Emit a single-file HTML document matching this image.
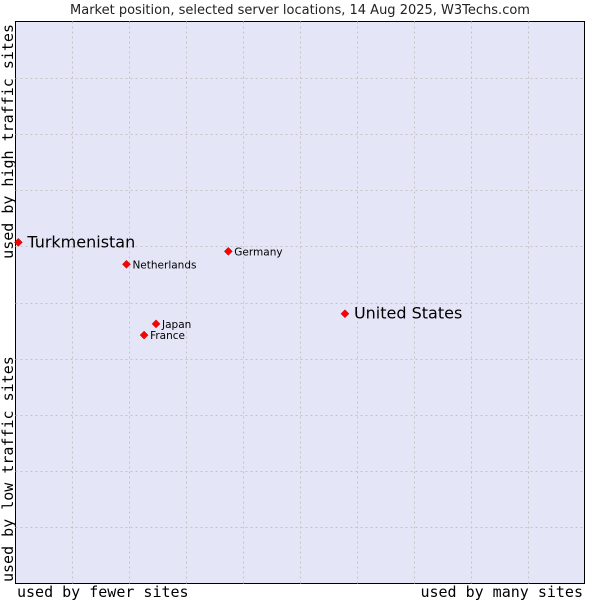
<!DOCTYPE html>
<html><head><meta charset="utf-8"><style>
html,body{margin:0;padding:0;background:#fff;}
svg{display:block;font-family:"DejaVu Sans","Liberation Sans",sans-serif;}
</style></head><body>
<svg id="chart" width="600" height="600" xmlns="http://www.w3.org/2000/svg">
<text x="300" y="14" text-anchor="middle" font-size="13" fill="#222">Market position, selected server locations, 14 Aug 2025, W3Techs.com</text>
<rect x="15.5" y="21.5" width="569" height="562" fill="#e4e6f8" stroke="#000" stroke-width="1"/>
<g id="grid"></g>
<g id="points"></g>
<text x="17" y="597" font-family="'DejaVu Sans Mono','Liberation Mono',monospace" font-size="15" fill="#000">used by fewer sites</text>
<text x="583" y="597" text-anchor="end" font-family="'DejaVu Sans Mono','Liberation Mono',monospace" font-size="15" fill="#000">used by many sites</text>
<text transform="translate(13,582) rotate(-90)" font-family="'DejaVu Sans Mono','Liberation Mono',monospace" font-size="15" fill="#000">used by low traffic sites</text>
<text transform="translate(13,24) rotate(-90)" text-anchor="end" font-family="'DejaVu Sans Mono','Liberation Mono',monospace" font-size="15" fill="#000">used by high traffic sites</text>
</svg>
<script>
const names = ["Turkmenistan","Netherlands","Germany","United States","Japan","France"];
const xVals = [0.05,1.95,3.74,5.79,2.47,2.26];
const yVals = [6.07,5.68,5.91,4.80,4.62,4.42];
const bigLabel = [true,false,false,true,false,false];
const gridTicks = [1,2,3,4,5,6,7,8,9];
const L=15.5,R=584.5,T=21.5,B=583.5;
const sx=v=>L+(R-L)*v/10;
const sy=v=>B-(B-T)*v/10;
const NS="http://www.w3.org/2000/svg";
const grid=document.getElementById('grid');
gridTicks.forEach(t=>{
  const v=document.createElementNS(NS,'line');
  v.setAttribute('x1',Math.round(sx(t))+0.5);v.setAttribute('x2',Math.round(sx(t))+0.5);
  v.setAttribute('y1',T);v.setAttribute('y2',B);
  v.setAttribute('stroke','#c4c4c4');v.setAttribute('stroke-dasharray','2,3');
  
  
  grid.appendChild(v);
  const h=document.createElementNS(NS,'line');
  h.setAttribute('y1',Math.round(sy(t))+0.5);h.setAttribute('y2',Math.round(sy(t))+0.5);
  h.setAttribute('x1',L);h.setAttribute('x2',R);
  h.setAttribute('stroke','#c4c4c4');h.setAttribute('stroke-dasharray','2,3');
  
  
  grid.appendChild(h);
});
const pts=document.getElementById('points');
names.forEach((n,i)=>{
  const x=sx(xVals[i]),y=sy(yVals[i]);
  const d=document.createElementNS(NS,'polygon');
  d.setAttribute('points',`${x},${y-4} ${x+4},${y} ${x},${y+4} ${x-4},${y}`);
  d.setAttribute('fill','#ff0000');d.setAttribute('stroke','#a00');d.setAttribute('stroke-width','0.5');
  
  
  pts.appendChild(d);
  const t=document.createElementNS(NS,'text');
  t.setAttribute('x',x+(bigLabel[i]?9:6));
  t.setAttribute('y',y+(bigLabel[i]?5:4));
  t.setAttribute('font-size',bigLabel[i]?16:10.5);
  t.setAttribute('fill','#000');
  t.textContent=n;
  
  
  pts.appendChild(t);
});
</script>
</body></html>
